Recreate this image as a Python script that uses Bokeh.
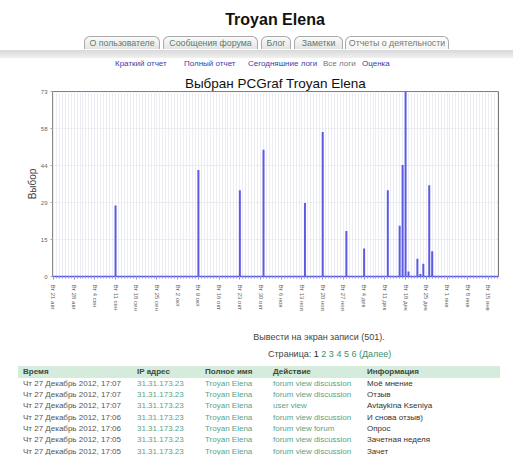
from bokeh.plotting import figure
from bokeh.models import Div, FixedTicker, Range1d, ColumnDataSource
from bokeh.layouts import column
from bokeh.embed import file_html
from bokeh.resources import INLINE

# ---------------- data ----------------
page_title = "Troyan Elena"
tabs = ["О пользователе", "Сообщения форума", "Блог", "Заметки", "Отчеты о деятельности"]
subtabs = ["Краткий отчет", "Полный отчет", "Сегодняшние логи", "Все логи", "Оценка"]
chart_title = "Выбран PCGraf Troyan Elena"
y_label = "Выбор"

x_tick_days = [0, 7, 14, 21, 28, 35, 42, 49, 56, 63, 70, 77, 84, 91, 98, 105, 112, 119, 126, 133, 140, 147]
x_tick_labels = ["Вт 21 авг", "Вт 28 авг", "Вт 4 сен", "Вт 11 сен", "Вт 18 сен", "Вт 25 сен",
                 "Вт 2 окт", "Вт 9 окт", "Вт 16 окт", "Вт 23 окт", "Вт 30 окт", "Вт 6 ноя",
                 "Вт 13 ноя", "Вт 20 ноя", "Вт 27 ноя", "Вт 4 дек", "Вт 11 дек", "Вт 18 дек",
                 "Вт 25 дек", "Вт 1 янв", "Вт 8 янв", "Вт 15 янв"]
y_tick_values = [0, 14.6, 29.2, 43.8, 58.4, 73]
y_tick_labels = ["0", "15", "29", "44", "58", "73"]

active_days = [21, 49, 63, 71, 85, 91, 99, 105, 113, 117, 118, 119, 120, 123, 124, 125, 127, 128]
active_counts = [28, 42, 34, 50, 29, 57, 18, 11, 34, 20, 44, 73, 2, 7, 1, 5, 36, 10]

records_text = "Вывести на экран записи (501)."
page_word = "Страница:"
pages = ["1", "2", "3", "4", "5", "6"]
next_text = "(Далее)"

headers = ["Время", "IP адрес", "Полное имя", "Действие", "Информация"]
times = ["Чт 27 Декабрь 2012, 17:07", "Чт 27 Декабрь 2012, 17:07", "Чт 27 Декабрь 2012, 17:07",
         "Чт 27 Декабрь 2012, 17:06", "Чт 27 Декабрь 2012, 17:06", "Чт 27 Декабрь 2012, 17:05",
         "Чт 27 Декабрь 2012, 17:05"]
ips = ["31.31.173.23"] * 7
names = ["Troyan Elena"] * 7
actions = ["forum view discussion", "forum view discussion", "user view", "forum view discussion",
           "forum view forum", "forum view discussion", "forum view discussion"]
infos = ["Моё мнение", "Отзыв", "Avtaykina Kseniya", "И снова отзыв)", "Опрос", "Зачетная неделя", "Зачет"]

FONT = "'Liberation Sans', Arial, sans-serif"
W = 513

# ---------------- header (HTML) ----------------
tab_boxes = [(84, 76), (163, 95), (261, 30), (294, 49), (345, 104)]  # x, width
parts = []
parts.append(f'<div style="position:absolute;left:175px;width:200px;top:11px;text-align:center;'
             f'font:bold 16px/18px {FONT};color:#111;">{page_title}</div>')
for i, (t, (x, w)) in enumerate(zip(tabs, tab_boxes)):
    bg = "linear-gradient(#ffffff,#f4f4f4)" if i == 4 else "linear-gradient(#fbfbfb,#e4e4e4)"
    col = "#777" if i == 4 else "#5a7d6c"
    parts.append(f'<div style="position:absolute;left:{x}px;top:36px;width:{w}px;height:13px;'
                 f'border:1px solid #aaa;border-bottom:none;border-radius:6px 6px 0 0;background:{bg};'
                 f'text-align:center;font:8.8px/13px {FONT};color:{col};white-space:nowrap;overflow:hidden;">{t}</div>')
parts.append(f'<div style="position:absolute;left:0;top:50px;width:{W}px;height:8px;'
             'background:linear-gradient(#d9d9d9,#f0f0f0);"></div>')
sub_x = [115, 184, 248, 323, 362]
for i, (t, x) in enumerate(zip(subtabs, sub_x)):
    col = "#777" if i == 3 else "#3c3cb0"
    parts.append(f'<div style="position:absolute;left:{x}px;top:59px;font:8px/10px {FONT};'
                 f'color:{col};white-space:nowrap;">{t}</div>')
top_html = (f'<div style="position:relative;width:{W}px;height:70px;overflow:hidden;">'
            + "".join(parts) + '</div>')
top_div = Div(text=top_html, width=W, height=70, margin=(0, 0, 0, 0))

# ---------------- chart ----------------
src = ColumnDataSource(data=dict(day=active_days, cnt=active_counts))
p = figure(width=W, height=252, output_backend="svg", toolbar_location=None,
           x_range=Range1d(-0.3, 150.4), y_range=Range1d(0, 73),
           min_border_left=52, min_border_right=15, min_border_top=21, min_border_bottom=46,
           margin=(0, 0, 0, 0))
p.title.text = chart_title
p.title.align = "center"
p.title.text_font = "Liberation Sans"
p.title.text_font_size = "13.5px"
p.title.text_font_style = "normal"
p.title.text_color = "#111111"
p.title.standoff = 1
p.title.offset = 0

p.segment(x0="day", y0=0, x1="day", y1="cnt", source=src, line_width=2, line_color="#5a5ae2")

all_days = list(range(0, 151))
p.xaxis.ticker = FixedTicker(ticks=x_tick_days, minor_ticks=all_days)
p.xaxis.major_label_overrides = {d: l for d, l in zip(x_tick_days, x_tick_labels)}
p.xaxis.major_label_orientation = "vertical"
p.xaxis.major_label_text_font = "Liberation Sans"
p.xaxis.major_label_text_font_size = "6px"
p.xaxis.major_label_text_color = "#666666"
p.xaxis.major_label_standoff = 5
p.xaxis.axis_line_color = "#5a5ae2"
p.xaxis.axis_line_width = 1.5
p.xaxis.major_tick_line_color = "#8888cc"
p.xaxis.major_tick_in = 0
p.xaxis.major_tick_out = 3
p.xaxis.minor_tick_line_color = "#9999dd"
p.xaxis.minor_tick_in = 0
p.xaxis.minor_tick_out = 2

p.yaxis.ticker = FixedTicker(ticks=y_tick_values)
p.yaxis.major_label_overrides = {v: l for v, l in zip(y_tick_values, y_tick_labels)}
p.yaxis.major_label_text_font = "Liberation Sans"
p.yaxis.major_label_text_font_size = "6px"
p.yaxis.major_label_text_color = "#666666"
p.yaxis.major_label_standoff = 3
p.yaxis.axis_line_color = "#888888"
p.yaxis.major_tick_line_color = "#aaaaaa"
p.yaxis.major_tick_in = 0
p.yaxis.major_tick_out = 2
p.yaxis.minor_tick_line_color = None
p.yaxis.axis_label = y_label
p.yaxis.axis_label_text_font = "Liberation Sans"
p.yaxis.axis_label_text_font_size = "10px"
p.yaxis.axis_label_text_font_style = "normal"
p.yaxis.axis_label_text_color = "#444444"
p.yaxis.axis_label_standoff = 0

p.xgrid.ticker = FixedTicker(ticks=all_days)
p.xgrid.grid_line_color = "#ececf4"
p.ygrid.ticker = FixedTicker(ticks=y_tick_values)
p.ygrid.grid_line_color = "#d6d6d6"
p.ygrid.grid_line_dash = "1 2"
p.outline_line_color = "#777777"
p.background_fill_color = "white"
p.border_fill_color = "white"

# ---------------- footer (HTML) ----------------
T0 = 322
b = []
b.append(f'<div style="position:absolute;left:219px;width:200px;top:{331-T0}px;text-align:center;'
         f'font:9px/12px {FONT};color:#444;">{records_text}</div>')
pg = " ".join([f'<span style="color:#222">{pages[0]}</span>'] +
              [f'<span style="color:#3e8e6e">{x}</span>' for x in pages[1:]] +
              [f'<span style="color:#3e8e6e">{next_text}</span>'])
b.append(f'<div style="position:absolute;left:268px;top:{348-T0}px;font:9px/12px {FONT};color:#444;'
         f'white-space:nowrap;">{page_word} {pg}</div>')
b.append(f'<div style="position:absolute;left:18px;top:{366-T0}px;width:482px;height:12px;background:#d5ecdc;"></div>')
col_x = [23, 137, 205, 273, 367]
for h, x in zip(headers, col_x):
    b.append(f'<div style="position:absolute;left:{x}px;top:{366-T0}px;font:bold 8px/12px {FONT};'
             f'color:#3a4a40;white-space:nowrap;">{h}</div>')
colors = ["#555555", "#58a486", "#58a486", "#58a486", "#333333"]
for i in range(len(times)):
    yc = 383.2 + i * 11.3 - T0
    for val, x, c in zip([times[i], ips[i], names[i], actions[i], infos[i]], col_x, colors):
        b.append(f'<div style="position:absolute;left:{x}px;top:{yc-5.5:.1f}px;font:8px/11px {FONT};'
                 f'color:{c};white-space:nowrap;">{val}</div>')
bottom_html = (f'<div style="position:relative;width:{W}px;height:133px;overflow:hidden;">' + "".join(b) + '</div>')
bottom_div = Div(text=bottom_html, width=W, height=133, margin=(0, 0, 0, 0))

layout = column(top_div, p, bottom_div, spacing=0, margin=(0, 0, 0, 0))
open("out.html", "w").write(file_html(layout, INLINE, title="Troyan Elena"))
